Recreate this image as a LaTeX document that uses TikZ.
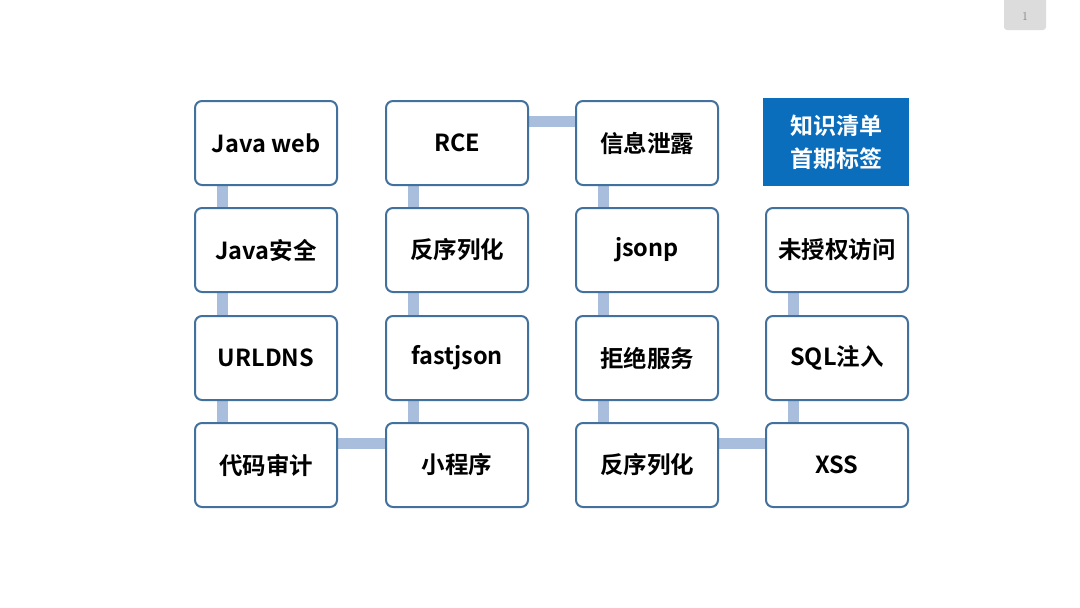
\documentclass[tikz,border=0pt]{standalone}
\usepackage{fontspec}
\newfontfamily\cjk{Noto Sans CJK SC}[BoldFont={Noto Sans CJK SC Bold}]
\usetikzlibrary{calc}
\definecolor{boxline}{HTML}{41719C}
\definecolor{conncol}{HTML}{A9BEDD}
\definecolor{tagblue}{HTML}{0A6EBD}
\definecolor{pagegray}{HTML}{DCDCDC}
\begin{document}
\begin{tikzpicture}[x=1pt,y=-1pt,
  item/.style={draw=boxline, line width=2pt, rounded corners=7pt, fill=white,
    minimum width=142pt, minimum height=84pt, inner sep=0pt,
    font=\cjk\bfseries\fontsize{23.5}{27}\selectfont, text=black},
  conn/.style={draw=conncol, line width=11pt},
  tag/.style={fill=tagblue, minimum width=146pt, minimum height=88pt, inner sep=0pt,
    align=center, font=\cjk\bfseries\fontsize{23}{33}\selectfont, text=white}]
\useasboundingbox (0,0) rectangle (1080,608);
\fill[white] (0,0) rectangle (1080,608);
% page number tab
\node[fill=pagegray, rounded corners=3pt, minimum width=42pt, minimum height=34pt, inner sep=0pt] (pg) at (1025,13) {};
\fill[white] (1000,-5) rectangle (1050,0);
\node[text=gray, font=\fontsize{12}{14}\selectfont] (pgn) at (1025,17) {1};
% invisible anchors for boxes
\node[item, draw=none, fill=none] (a1) at (266,143) {};
\node[item, draw=none, fill=none] (a2) at (266,250) {};
\node[item, draw=none, fill=none] (a3) at (266,358) {};
\node[item, draw=none, fill=none] (a4) at (266,465) {};
\node[item, draw=none, fill=none] (b1) at (457,143) {};
\node[item, draw=none, fill=none] (b2) at (457,250) {};
\node[item, draw=none, fill=none] (b3) at (457,358) {};
\node[item, draw=none, fill=none] (b4) at (457,465) {};
\node[item, draw=none, fill=none] (d1) at (647,143) {};
\node[item, draw=none, fill=none] (d2) at (647,250) {};
\node[item, draw=none, fill=none] (d3) at (647,358) {};
\node[item, draw=none, fill=none] (d4) at (647,465) {};
\node[item, draw=none, fill=none] (e2) at (837,250) {};
\node[item, draw=none, fill=none] (e3) at (837,358) {};
\node[item, draw=none, fill=none] (e4) at (837,465) {};
% connectors (drawn first, behind boxes)
\path[conn] ($(a1.south west)+(28,0)$) -- ($(a2.north west)+(28,0)$);
\path[conn] ($(a2.south west)+(28,0)$) -- ($(a3.north west)+(28,0)$);
\path[conn] ($(a3.south west)+(28,0)$) -- ($(a4.north west)+(28,0)$);
\path[conn] ($(a4.east)+(0,-22)$) -- ($(b4.west)+(0,-22)$);
\path[conn] ($(b4.north west)+(28,0)$) -- ($(b3.south west)+(28,0)$);
\path[conn] ($(b3.north west)+(28,0)$) -- ($(b2.south west)+(28,0)$);
\path[conn] ($(b2.north west)+(28,0)$) -- ($(b1.south west)+(28,0)$);
\path[conn] ($(b1.east)+(0,-22)$) -- ($(d1.west)+(0,-22)$);
\path[conn] ($(d1.south west)+(28,0)$) -- ($(d2.north west)+(28,0)$);
\path[conn] ($(d2.south west)+(28,0)$) -- ($(d3.north west)+(28,0)$);
\path[conn] ($(d3.south west)+(28,0)$) -- ($(d4.north west)+(28,0)$);
\path[conn] ($(d4.east)+(0,-22)$) -- ($(e4.west)+(0,-22)$);
\path[conn] ($(e4.north west)+(28,0)$) -- ($(e3.south west)+(28,0)$);
\path[conn] ($(e3.north west)+(28,0)$) -- ($(e2.south west)+(28,0)$);
% boxes
\node[item] (A1) at (a1) {Java web};
\node[item] (A2) at (a2) {Java安全};
\node[item] (A3) at (a3) {URLDNS};
\node[item] (A4) at (a4) {代码审计};
\node[item] (B1) at (b1) {RCE};
\node[item] (B2) at (b2) {反序列化};
\node[item] (B3) at (b3) {fastjson};
\node[item] (B4) at (b4) {小程序};
\node[item] (D1) at (d1) {信息泄露};
\node[item] (D2) at (d2) {jsonp};
\node[item] (D3) at (d3) {拒绝服务};
\node[item] (D4) at (d4) {反序列化};
\node[tag] (E1) at (836,142) {知识清单\\首期标签};
\node[item] (E2) at (e2) {未授权访问};
\node[item] (E3) at (e3) {SQL注入};
\node[item] (E4) at (e4) {XSS};
\end{tikzpicture}
\end{document}
